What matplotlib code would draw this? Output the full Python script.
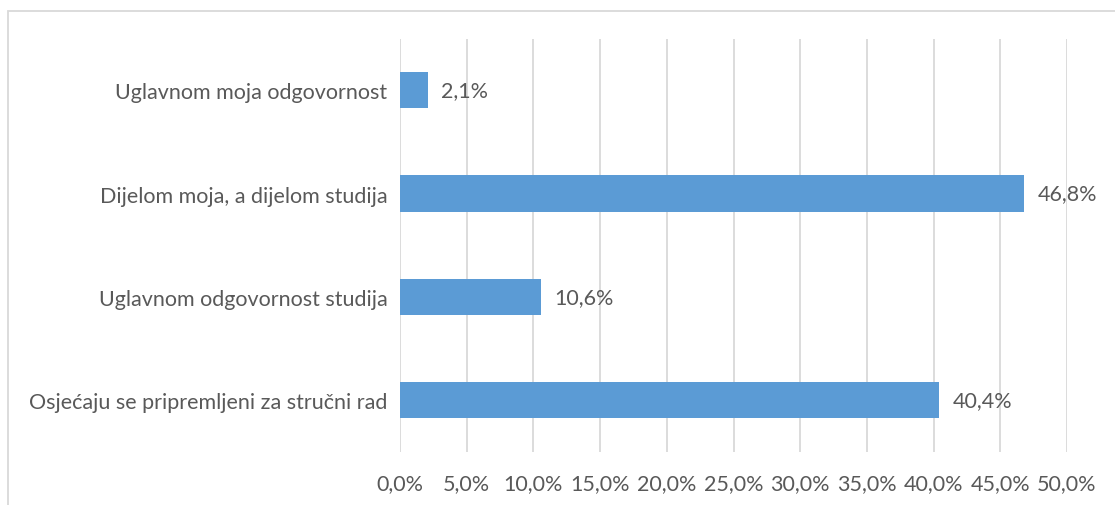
import matplotlib.pyplot as plt
from matplotlib import patches

categories = ["Osjećaju se pripremljeni za stručni rad",
              "Uglavnom odgovornost studija",
              "Dijelom moja, a dijelom studija",
              "Uglavnom moja odgovornost"]
values = [40.4, 10.6, 46.8, 2.1]
xticks = [0, 5, 10, 15, 20, 25, 30, 35, 40, 45, 50]

plt.rcParams['font.family'] = ['Lato', 'DejaVu Sans']
txt = '#595959'
fs = 15.5

fig = plt.figure(figsize=(11.15, 5.06), dpi=100)
ax = fig.add_axes([400 / 1115, 53 / 506, 667 / 1115, 413.5 / 506])

# chart frame
fig.patches.append(patches.Rectangle((8 / 1115, -0.1), 1.1, (506 - 12) / 506 + 0.1,
                                     transform=fig.transFigure, fill=False,
                                     edgecolor='#D9D9D9', linewidth=1.3))

y = range(len(categories))
ax.barh(y, values, height=0.35, color='#5B9BD5', zorder=3)
for i, v in zip(y, values):
    ax.text(v + 1.0, i, f"{v:.1f}%".replace('.', ','), va='center', ha='left',
            fontsize=fs, color=txt)

ax.set_xlim(0, 50)
ax.set_ylim(-0.5, 3.5)
ax.set_xticks(xticks)
ax.set_xticklabels([f"{t:.1f}%".replace('.', ',') for t in xticks], fontsize=fs, color=txt)
ax.set_yticks(list(y))
ax.set_yticklabels(categories, fontsize=fs, color=txt)
ax.tick_params(axis='both', length=0)
ax.tick_params(axis='x', pad=15)
ax.tick_params(axis='y', pad=9)
ax.grid(axis='x', color='#D9D9D9', linewidth=1.3, zorder=0)
for s in ax.spines.values():
    s.set_visible(False)

fig.savefig('out.png', dpi=100)
